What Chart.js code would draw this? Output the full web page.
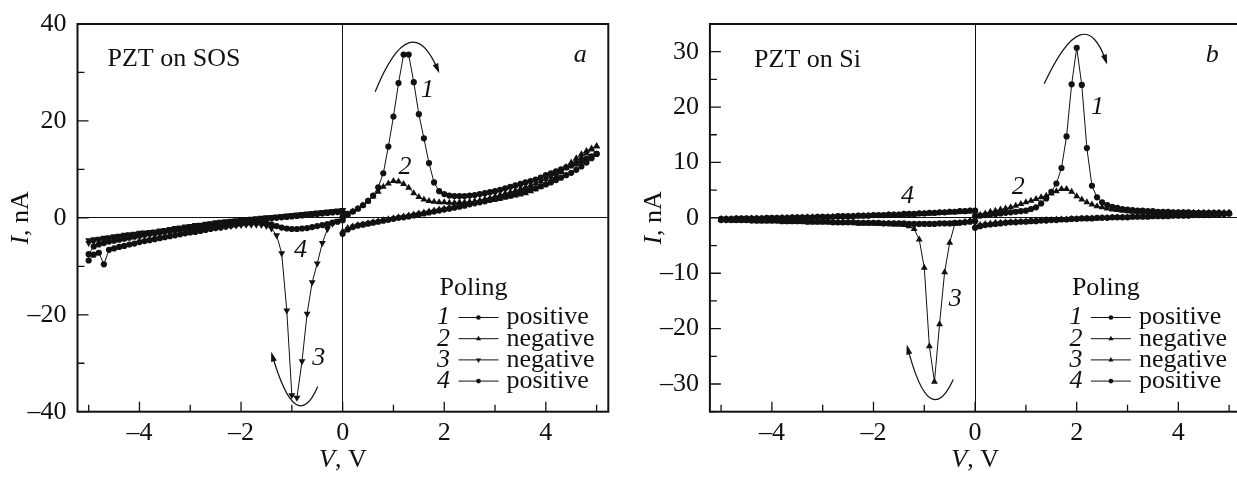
<!DOCTYPE html>
<html>
<head>
<meta charset="utf-8">
<script src="https://cdn.jsdelivr.net/npm/chart.js@4.4.0/dist/chart.umd.min.js"></script>
<style>
  html, body { margin: 0; padding: 0; background: #fff; overflow: hidden; }
  #wrap { position: relative; width: 1237px; height: 480px; overflow: hidden; }
  #boxA { position: absolute; left: 0; top: 0; }
  #boxB { position: absolute; left: 617px; top: 0; }
</style>
</head>
<body>
<div id="wrap">
  <div id="boxA"><canvas id="chartA" width="617" height="480"></canvas></div>
  <div id="boxB"><canvas id="chartB" width="630" height="480"></canvas></div>
</div>
<script>
// voltage grid of the sweeps, V
const voltsPos = [0.0,0.1,0.2,0.3,0.4,0.5,0.6,0.7,0.8,0.9,1.0,1.1,1.2,1.3,1.4,1.5,1.6,1.7,1.8,1.9,2.0,2.1,2.2,2.3,2.4,2.5,2.6,2.7,2.8,2.9,3.0,3.1,3.2,3.3,3.4,3.5,3.6,3.7,3.8,3.9,4.0,4.1,4.2,4.3,4.4,4.5,4.6,4.7,4.8,4.9,5.0];
const voltsNeg = [0.0,-0.1,-0.2,-0.3,-0.4,-0.5,-0.6,-0.7,-0.8,-0.9,-1.0,-1.1,-1.2,-1.3,-1.4,-1.5,-1.6,-1.7,-1.8,-1.9,-2.0,-2.1,-2.2,-2.3,-2.4,-2.5,-2.6,-2.7,-2.8,-2.9,-3.0,-3.1,-3.2,-3.3,-3.4,-3.5,-3.6,-3.7,-3.8,-3.9,-4.0,-4.1,-4.2,-4.3,-4.4,-4.5,-4.6,-4.7,-4.8,-4.9,-5.0];

// panel a: PZT on SOS, current in nA (forward sweep / return sweep, same voltage order)
const sosCurve1Fwd = [0.3,0.8,1.3,1.9,2.6,3.5,4.6,6.3,9.2,14.7, 20.9,27.8,33.7,33.7,28.0,21.4,16.4,11.3,7.3,5.5, 4.9,4.6,4.5,4.5,4.5,4.6,4.7,4.9,5.1,5.3, 5.5,5.8,6.1,6.4,6.7,7.0,7.3,7.6,7.9,8.3, 8.8,9.2,9.6,10.0,10.4,10.8,11.2,11.7,12.2,12.7, 13.2];
const sosCurve1Ret = [-3.3,-2.4,-1.9,-1.6,-1.4,-1.2,-1.0,-0.8,-0.6,-0.4, -0.2,0.0,0.1,0.3,0.5,0.7,0.9,1.1,1.3,1.5, 1.7,1.9,2.1,2.3,2.5,2.8,3.0,3.2,3.4,3.7, 3.9,4.1,4.4,4.6,4.9,5.2,5.5,5.8,6.1,6.5, 6.9,7.3,7.8,8.3,8.8,9.3,9.9,10.6,11.4,12.3, 13.2];
const sosCurve2Fwd = [0.2,0.7,1.3,1.9,2.6,3.4,4.4,5.4,6.4,7.1, 7.6,7.5,7.0,6.2,5.1,4.3,3.8,3.5,3.3,3.2, 3.2,3.1,3.1,3.2,3.2,3.3,3.4,3.5,3.6,3.7, 3.8,4.0,4.2,4.4,4.6,4.8,5.1,5.5,5.9,6.4, 7.0,7.7,8.5,9.4,10.5,11.4,12.3,13.1,13.8,14.3, 14.8];
const sosCurve2Ret = [-2.8,-2.1,-1.8,-1.5,-1.3,-1.1,-0.9,-0.7,-0.5,-0.3, -0.1,0.1,0.3,0.5,0.7,0.9,1.1,1.3,1.5,1.7, 1.9,2.1,2.3,2.6,2.8,3.1,3.3,3.6,3.9,4.1, 4.4,4.7,5.0,5.3,5.6,6.0,6.3,6.7,7.1,7.5, 8.0,8.5,9.1,9.7,10.3,11.0,11.7,12.5,13.3,14.1, 14.8];
const sosCurve3Fwd = [-0.3,-0.6,-1.2,-2.3,-5.2,-9.4,-13.3,-19.8,-29.6,-37.1, -36.6,-19.1,-7.3,-3.6,-2.2,-1.7,-1.5,-1.4,-1.4,-1.4, -1.5,-1.6,-1.7,-1.8,-1.9,-2.0,-2.1,-2.2,-2.3,-2.4, -2.5,-2.6,-2.7,-2.8,-2.9,-3.0,-3.1,-3.2,-3.3,-3.4, -3.5,-3.6,-3.7,-3.8,-3.9,-4.1,-4.3,-4.5,-4.7,-4.9, -5.2];
const sosCurve3Ret = [1.6,1.5,1.4,1.3,1.2,1.1,1.0,0.9,0.8,0.7, 0.6,0.5,0.4,0.3,0.2,0.1,0.0,-0.1,-0.2,-0.3, -0.4,-0.5,-0.6,-0.7,-0.8,-0.9,-1.1,-1.2,-1.4,-1.5, -1.7,-1.8,-2.0,-2.1,-2.3,-2.5,-2.6,-2.8,-2.9,-3.0, -3.1,-3.3,-3.4,-3.5,-3.7,-3.8,-4.0,-4.1,-4.3,-4.4, -4.6];
const sosCurve4Fwd = [-0.5,-0.8,-1.0,-1.3,-1.5,-1.7,-1.9,-2.1,-2.2,-2.3, -2.3,-2.2,-2.0,-1.7,-1.4,-1.1,-0.9,-0.9,-1.0,-1.1, -1.2,-1.4,-1.6,-1.8,-2.0,-2.1,-2.3,-2.5,-2.7,-2.9, -3.0,-3.2,-3.4,-3.6,-3.8,-4.0,-4.2,-4.4,-4.6,-4.8, -5.0,-5.3,-5.5,-5.8,-6.0,-6.3,-6.6,-9.6,-7.2,-7.6, -8.8];
const sosCurve4Ret = [1.3,1.2,1.1,1.0,0.9,0.8,0.7,0.6,0.5,0.4, 0.3,0.2,0.1,0.0,-0.1,-0.2,-0.3,-0.4,-0.5,-0.6, -0.7,-0.8,-0.9,-1.0,-1.1,-1.3,-1.4,-1.6,-1.7,-1.9, -2.0,-2.2,-2.3,-2.5,-2.7,-2.8,-3.0,-3.2,-3.3,-3.5, -3.7,-3.9,-4.1,-4.3,-4.5,-4.7,-4.9,-5.2,-5.5,-5.9, -7.5];

// panel b: PZT on Si, current in nA
const siCurve1Fwd = [0.3,0.4,0.5,0.6,0.7,0.8,0.9,1.0,1.1,1.2, 1.3,1.6,1.9,2.6,3.5,4.7,6.2,9.0,14.7,24.1, 30.7,24.0,12.6,5.8,3.7,2.8,2.3,2.0,1.8,1.6, 1.5,1.4,1.3,1.3,1.2,1.2,1.1,1.1,1.1,1.0, 1.0,1.0,1.0,0.9,0.9,0.9,0.9,0.9,0.9,0.8, 0.8];
const siCurve1Ret = [-1.8,-1.5,-1.3,-1.2,-1.1,-1.0,-0.9,-0.8,-0.8,-0.7, -0.7,-0.6,-0.6,-0.5,-0.5,-0.4,-0.4,-0.3,-0.3,-0.2, -0.2,-0.1,-0.1,-0.1,0.0,0.0,0.0,0.1,0.1,0.1, 0.1,0.2,0.2,0.2,0.2,0.3,0.3,0.3,0.3,0.4, 0.4,0.4,0.4,0.5,0.5,0.5,0.5,0.6,0.6,0.7, 0.8];
const siCurve2Fwd = [0.3,0.5,0.8,1.1,1.3,1.5,1.7,1.9,2.2,2.5, 2.8,3.1,3.4,3.7,4.0,4.4,4.8,5.2,5.2,4.7, 3.9,3.3,2.8,2.4,2.1,1.9,1.7,1.5,1.4,1.3, 1.2,1.1,1.1,1.0,1.0,1.0,0.9,0.9,0.9,0.9, 0.9,0.9,0.9,0.9,0.9,0.9,0.9,0.9,0.9,0.9, 0.9];
const siCurve2Ret = [-1.5,-1.3,-1.1,-1.0,-0.9,-0.9,-0.8,-0.8,-0.7,-0.7, -0.6,-0.6,-0.5,-0.5,-0.4,-0.4,-0.3,-0.3,-0.3,-0.2, -0.2,-0.2,-0.1,-0.1,-0.1,0.0,0.0,0.0,0.1,0.1, 0.1,0.1,0.2,0.2,0.2,0.3,0.3,0.3,0.3,0.4, 0.4,0.4,0.5,0.5,0.5,0.6,0.6,0.6,0.7,0.8, 0.9];
const siCurve3Fwd = [-0.3,-0.5,-0.7,-0.9,-1.1,-4.5,-9.8,-19.2,-29.6,-23.2, -9.0,-3.9,-2.0,-1.5,-1.3,-1.2,-1.2,-1.1,-1.1,-1.1, -1.0,-1.0,-1.0,-1.0,-0.9,-0.9,-0.9,-0.9,-0.9,-0.8, -0.8,-0.8,-0.8,-0.8,-0.7,-0.7,-0.7,-0.7,-0.7,-0.6, -0.6,-0.6,-0.6,-0.6,-0.5,-0.5,-0.5,-0.5,-0.5,-0.4, -0.4];
const siCurve3Ret = [1.2,1.2,1.1,1.1,1.0,1.0,0.9,0.9,0.8,0.8, 0.7,0.7,0.6,0.6,0.6,0.5,0.5,0.5,0.4,0.4, 0.4,0.4,0.3,0.3,0.3,0.2,0.2,0.2,0.2,0.1, 0.1,0.1,0.1,0.1,0.0,0.0,0.0,0.0,0.0,-0.1, -0.1,-0.1,-0.1,-0.1,-0.1,-0.2,-0.2,-0.2,-0.2,-0.2, -0.2];
const siCurve4Fwd = [-0.6,-0.7,-0.8,-0.9,-0.9,-1.0,-1.0,-1.0,-1.1,-1.1, -1.1,-1.1,-1.1,-1.1,-1.0,-1.0,-1.0,-1.0,-1.0,-0.9, -0.9,-0.9,-0.9,-0.9,-0.8,-0.8,-0.8,-0.8,-0.8,-0.7, -0.7,-0.7,-0.7,-0.7,-0.6,-0.6,-0.6,-0.6,-0.6,-0.5, -0.5,-0.5,-0.5,-0.5,-0.5,-0.4,-0.4,-0.4,-0.4,-0.4, -0.4];
const siCurve4Ret = [1.3,1.3,1.2,1.2,1.1,1.1,1.0,1.0,0.9,0.9, 0.8,0.8,0.7,0.7,0.7,0.6,0.6,0.6,0.5,0.5, 0.5,0.4,0.4,0.4,0.3,0.3,0.3,0.3,0.2,0.2, 0.2,0.2,0.1,0.1,0.1,0.1,0.1,0.0,0.0,0.0, 0.0,0.0,-0.1,-0.1,-0.1,-0.1,-0.1,-0.1,-0.2,-0.2, -0.2];

const curveNumbers = ['1', '2', '3', '4'];
const polingLabels = ['positive', 'negative', 'negative', 'positive'];

const ink = '#111';
const serif = "'Liberation Serif', 'Times New Roman', serif";
const fontPx = 26;

// forward sweep then back again
function sweep(volts, fwd, ret) {
  const pts = volts.map((v, i) => ({ x: v, y: fwd[i] }));
  for (let i = volts.length - 1; i >= 0; i--) pts.push({ x: volts[i], y: ret[i] });
  return pts;
}

const markers = {
  circle: { pointStyle: 'circle', pointRadius: 3.1, pointRotation: 0 },
  up: { pointStyle: 'triangle', pointRadius: 4, pointRotation: 0 },
  down: { pointStyle: 'triangle', pointRadius: 4, pointRotation: 180 }
};

function makeDataset(label, data, m) {
  return Object.assign({
    label: label,
    data: data,
    showLine: true,
    borderColor: ink,
    borderWidth: 1,
    backgroundColor: ink,
    pointBackgroundColor: ink,
    pointBorderWidth: 0,
    pointHoverRadius: 0,
    tension: 0
  }, m);
}

function fmtTick(v) {
  return v < 0 ? '\u2013' + Math.abs(v) : String(v);
}

function fontStr(italic) {
  return (italic ? 'italic ' : '') + fontPx + 'px ' + serif;
}

function textParts(ctx, parts, x, y, align) {
  let total = 0;
  parts.forEach(p => {
    ctx.font = fontStr(p.italic);
    p.w = ctx.measureText(p.text).width;
    total += p.w;
  });
  let cx = align === 'center' ? x - total / 2 : x;
  ctx.textAlign = 'left';
  ctx.textBaseline = 'middle';
  parts.forEach(p => {
    ctx.font = fontStr(p.italic);
    ctx.fillText(p.text, cx, y);
    cx += p.w;
  });
}

const figurePlugin = {
  id: 'figure',
  afterDraw(chart, args, o) {
    const ctx = chart.ctx, area = chart.chartArea;
    const xs = chart.scales.x, ys = chart.scales.y;
    ctx.save();
    ctx.strokeStyle = ink;
    ctx.fillStyle = ink;

    // ticks pointing into the plot
    ctx.lineWidth = 1.3;
    ctx.beginPath();
    xs.ticks.forEach(t => {
      const px = xs.getPixelForValue(t.value);
      const len = t.label ? 10 : 7;
      ctx.moveTo(px, area.bottom);
      ctx.lineTo(px, area.bottom - len);
    });
    ys.ticks.forEach(t => {
      const py = ys.getPixelForValue(t.value);
      const len = t.label ? 11 : 7;
      ctx.moveTo(area.left, py);
      ctx.lineTo(area.left + len, py);
    });
    ctx.stroke();

    // frame
    ctx.lineWidth = 2;
    ctx.strokeRect(area.left, area.top, area.width, area.height);

    // text notes placed in data units
    o.notes.forEach(n => {
      ctx.font = fontStr(n.italic);
      ctx.textAlign = n.align || 'center';
      ctx.textBaseline = 'middle';
      ctx.fillText(n.text, xs.getPixelForValue(n.x), ys.getPixelForValue(n.y));
    });

    // curved sweep arrows
    ctx.lineWidth = 1.2;
    o.arrows.forEach(a => {
      const p0 = [xs.getPixelForValue(a.from[0]), ys.getPixelForValue(a.from[1])];
      const pc = [xs.getPixelForValue(a.via[0]), ys.getPixelForValue(a.via[1])];
      const p1 = [xs.getPixelForValue(a.to[0]), ys.getPixelForValue(a.to[1])];
      ctx.beginPath();
      ctx.moveTo(p0[0], p0[1]);
      ctx.quadraticCurveTo(pc[0], pc[1], p1[0], p1[1]);
      ctx.stroke();
      const ang = Math.atan2(p1[1] - pc[1], p1[0] - pc[0]);
      ctx.beginPath();
      ctx.moveTo(p1[0] + Math.cos(ang) * 3, p1[1] + Math.sin(ang) * 3);
      ctx.lineTo(p1[0] - Math.cos(ang) * 7 - Math.sin(ang) * 3, p1[1] - Math.sin(ang) * 7 + Math.cos(ang) * 3);
      ctx.lineTo(p1[0] - Math.cos(ang) * 7 + Math.sin(ang) * 3, p1[1] - Math.sin(ang) * 7 - Math.cos(ang) * 3);
      ctx.closePath();
      ctx.fill();
    });

    // legend
    const lx = area.left, ly = area.top;
    ctx.font = fontStr(false);
    ctx.textAlign = 'left';
    ctx.textBaseline = 'middle';
    ctx.fillText('Poling', lx + 362, ly + 264);
    chart.data.datasets.forEach((ds, i) => {
      const y = ly + 293.5 + i * 21.2;
      ctx.font = fontStr(true);
      ctx.textAlign = 'center';
      ctx.fillText(curveNumbers[i], lx + 366, y);
      ctx.lineWidth = 1;
      ctx.beginPath();
      ctx.moveTo(lx + 381, y);
      ctx.lineTo(lx + 421, y);
      ctx.stroke();
      Chart.helpers.drawPoint(ctx, {
        pointStyle: ds.pointStyle,
        rotation: ds.pointRotation,
        radius: ds.pointRadius * 0.75,
        borderWidth: 0
      }, lx + 401, y);
      ctx.font = fontStr(false);
      ctx.textAlign = 'left';
      ctx.fillText(polingLabels[i], lx + 429, y);
    });

    // axis titles
    textParts(ctx, [{ text: 'V', italic: true }, { text: ', V' }], (area.left + area.right) / 2, 460, 'center');
    ctx.save();
    ctx.translate(area.left - 56, (area.top + area.bottom) / 2);
    ctx.rotate(-Math.PI / 2);
    textParts(ctx, [{ text: 'I', italic: true }, { text: ', nA' }], 0, 0, 'center');
    ctx.restore();

    ctx.restore();
  }
};

function makeOptions(cfg) {
  return {
    responsive: false,
    animation: false,
    events: [],
    layout: { padding: { left: 0, top: 15.7, right: cfg.rightPad, bottom: 0 } },
    plugins: {
      legend: { display: false },
      tooltip: { enabled: false },
      figure: { notes: cfg.notes, arrows: cfg.arrows }
    },
    scales: {
      x: {
        type: 'linear',
        min: cfg.xMin,
        max: cfg.xMax,
        afterFit: s => { s.height = 68.3; },
        border: { display: false },
        grid: {
          drawTicks: false,
          lineWidth: 1,
          color: c => (c.tick && c.tick.value === 0) ? ink : 'rgba(0,0,0,0)'
        },
        ticks: {
          stepSize: 1,
          includeBounds: false,
          autoSkip: false,
          maxRotation: 0,
          padding: 8,
          color: ink,
          font: { family: serif, size: fontPx, lineHeight: 1 },
          callback: v => (Math.abs(v % 2) < 1e-6) ? fmtTick(v) : ''
        }
      },
      y: {
        type: 'linear',
        min: cfg.yMin,
        max: cfg.yMax,
        afterFit: s => { s.width = cfg.yWidth; },
        border: { display: false },
        grid: {
          drawTicks: false,
          lineWidth: 1,
          color: c => (c.tick && c.tick.value === 0) ? ink : 'rgba(0,0,0,0)'
        },
        ticks: {
          stepSize: cfg.yStep,
          autoSkip: false,
          padding: 11,
          color: ink,
          font: { family: serif, size: fontPx, lineHeight: 1 },
          callback: v => (Math.abs(v % cfg.yMajor) < 1e-6) ? fmtTick(v) : ''
        }
      }
    }
  };
}

new Chart(document.getElementById('chartA'), {
  type: 'scatter',
  data: {
    datasets: [
      makeDataset('1', sweep(voltsPos, sosCurve1Fwd, sosCurve1Ret), markers.circle),
      makeDataset('2', sweep(voltsPos, sosCurve2Fwd, sosCurve2Ret), markers.up),
      makeDataset('3', sweep(voltsNeg, sosCurve3Fwd, sosCurve3Ret), markers.down),
      makeDataset('4', sweep(voltsNeg, sosCurve4Fwd, sosCurve4Ret), markers.circle)
    ]
  },
  options: makeOptions({
    xMin: -5.22, xMax: 5.23, yMin: -40, yMax: 40, yStep: 10, yMajor: 20,
    yWidth: 77.5, rightPad: 8.7,
    notes: [
      { text: 'PZT on SOS', x: -4.63, y: 32.7, align: 'left' },
      { text: 'a', x: 4.68, y: 33.5, italic: true },
      { text: '1', x: 1.67, y: 26.3, italic: true },
      { text: '2', x: 1.23, y: 10.5, italic: true },
      { text: '4', x: -0.83, y: -6.7, italic: true },
      { text: '3', x: -0.47, y: -28.9, italic: true }
    ],
    arrows: [
      { from: [0.64, 26.0], via: [1.34, 44.0], to: [1.88, 30.4] },
      { from: [-0.49, -34.8], via: [-0.92, -45.3], to: [-1.39, -28.2] }
    ]
  }),
  plugins: [figurePlugin]
});

new Chart(document.getElementById('chartB'), {
  type: 'scatter',
  data: {
    datasets: [
      makeDataset('1', sweep(voltsPos, siCurve1Fwd, siCurve1Ret), markers.circle),
      makeDataset('2', sweep(voltsPos, siCurve2Fwd, siCurve2Ret), markers.up),
      makeDataset('3', sweep(voltsNeg, siCurve3Fwd, siCurve3Ret), markers.up),
      makeDataset('4', sweep(voltsNeg, siCurve4Fwd, siCurve4Ret), markers.circle)
    ]
  },
  options: makeOptions({
    xMin: -5.22, xMax: 5.22, yMin: -35, yMax: 35, yStep: 5, yMajor: 10,
    yWidth: 92.9, rightPad: 6.7,
    notes: [
      { text: 'PZT on Si', x: -4.35, y: 28.5, align: 'left' },
      { text: 'b', x: 4.67, y: 29.4, italic: true },
      { text: '1', x: 2.41, y: 20.0, italic: true },
      { text: '2', x: 0.85, y: 5.6, italic: true },
      { text: '4', x: -1.33, y: 3.9, italic: true },
      { text: '3', x: -0.39, y: -14.6, italic: true }
    ],
    arrows: [
      { from: [1.36, 24.2], via: [2.15, 39.8], to: [2.58, 28.2] },
      { from: [-0.43, -29.2], via: [-0.90, -38.7], to: [-1.33, -23.4] }
    ]
  }),
  plugins: [figurePlugin]
});
</script>
</body>
</html>
